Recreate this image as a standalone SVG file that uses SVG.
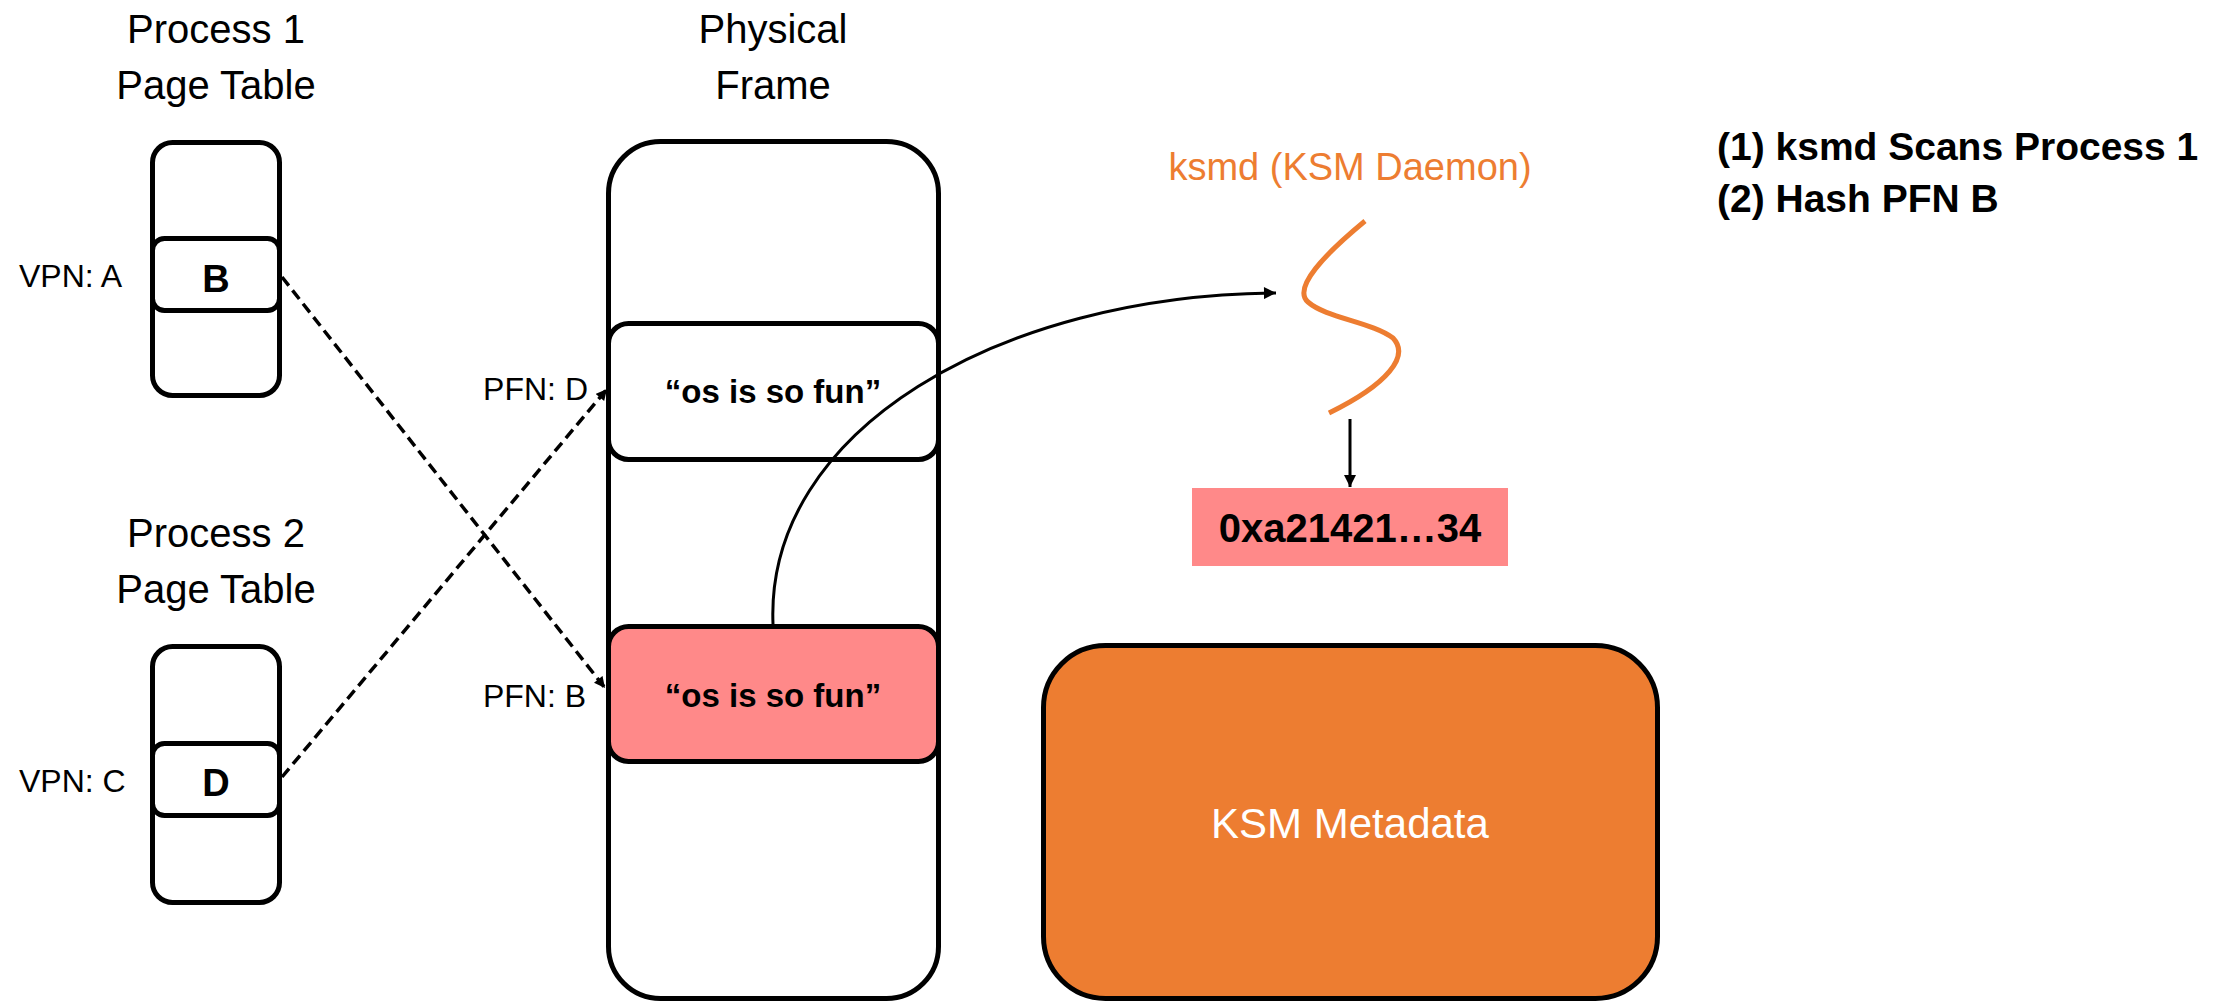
<svg xmlns="http://www.w3.org/2000/svg" width="2234" height="1004" viewBox="0 0 2234 1004">
  <defs>
    <style>
      text { font-family: "Liberation Sans", Arial, sans-serif; }
      .title { font-size: 40px; fill: #000; text-anchor: middle; }
      .lbl { font-size: 32px; fill: #000; }
      .bold { font-weight: bold; }
      .box { fill: #fff; stroke: #000; stroke-width: 5; }
      .pink { fill: #FF8989; }
      .dash { fill: none; stroke: #000; stroke-width: 3.5; stroke-dasharray: 11 6; }
      .solid { fill: none; stroke: #000; stroke-width: 3; }
    </style>
    <marker id="ah" viewBox="0 0 10 10" refX="10" refY="5" markerWidth="14" markerHeight="12" markerUnits="userSpaceOnUse" orient="auto">
      <path d="M0,0 L10,5 L0,10 z" fill="#000"/>
    </marker>
    <marker id="ahs" viewBox="0 0 10 10" refX="10" refY="5" markerWidth="12" markerHeight="11" markerUnits="userSpaceOnUse" orient="auto">
      <path d="M0,0 L10,5 L0,10 z" fill="#000"/>
    </marker>
  </defs>
  <rect width="2234" height="1004" fill="#fff"/>

  <g id="process1">
    <text class="title" x="216" y="43">Process 1</text>
    <text class="title" x="216" y="99">Page Table</text>
    <rect class="box" x="152.5" y="142.5" width="127" height="253" rx="20"/>
    <rect class="box" x="152.5" y="238.5" width="127" height="72" rx="12"/>
    <text class="bold" x="216" y="292" font-size="38" text-anchor="middle">B</text>
    <text class="lbl" x="19" y="287" font-size="33">VPN: A</text>
  </g>

  <g id="process2">
    <text class="title" x="216" y="547">Process 2</text>
    <text class="title" x="216" y="603">Page Table</text>
    <rect class="box" x="152.5" y="646.5" width="127" height="256" rx="20"/>
    <rect class="box" x="152.5" y="743.5" width="127" height="72" rx="12"/>
    <text class="bold" x="216" y="796" font-size="38" text-anchor="middle">D</text>
    <text class="lbl" x="19" y="792" font-size="33">VPN: C</text>
  </g>

  <g id="physical-frame">
    <text class="title" x="773" y="43">Physical</text>
    <text class="title" x="773" y="99">Frame</text>
    <rect class="box" x="608.5" y="141.5" width="330" height="857" rx="52"/>
    <rect class="box" x="608.5" y="323.5" width="330" height="136" rx="20"/>
    <text class="bold" x="773" y="403" font-size="33" text-anchor="middle">“os is so fun”</text>
    <rect class="box pink" x="608.5" y="626.5" width="330" height="135" rx="20"/>
    <text class="bold" x="773" y="707" font-size="33" text-anchor="middle">“os is so fun”</text>
    <text class="lbl" x="588" y="400" text-anchor="end">PFN: D</text>
    <text class="lbl" x="586" y="707" text-anchor="end">PFN: B</text>
  </g>

  <g id="ksmd">
    <text x="1350" y="180" font-size="38" fill="#ED7D31" text-anchor="middle">ksmd (KSM Daemon)</text>
    <path d="M1365,221 C1325,254 1292,288 1308,302 C1326,318 1372,322 1393,338 C1410,356 1388,384 1329,413" fill="none" stroke="#ED7D31" stroke-width="5"/>
  </g>

  <g id="hash">
    <rect class="pink" x="1192" y="488" width="316" height="78"/>
    <text class="bold" x="1350" y="542" font-size="40" text-anchor="middle">0xa21421…34</text>
  </g>

  <g id="ksm-metadata">
    <rect x="1043.5" y="645.5" width="614" height="353" rx="62" fill="#ED7D31" stroke="#000" stroke-width="5"/>
    <text x="1350" y="838" font-size="42" fill="#fff" text-anchor="middle">KSM Metadata</text>
  </g>

  <g id="steps">
    <text class="bold" x="1717" y="160" font-size="39">(1) ksmd Scans Process 1</text>
    <text class="bold" x="1717" y="212" font-size="39">(2) Hash PFN B</text>
  </g>

  <g id="connectors">
    <path class="dash" d="M282,277 L605,688" marker-end="url(#ahs)"/>
    <path class="dash" d="M282,777 L607,389" marker-end="url(#ahs)"/>
    <path class="solid" d="M773,624 C765,430 1000,295 1276,293" marker-end="url(#ah)"/>
    <path class="solid" d="M1350,419 L1350,487" marker-end="url(#ah)"/>
  </g>
</svg>
